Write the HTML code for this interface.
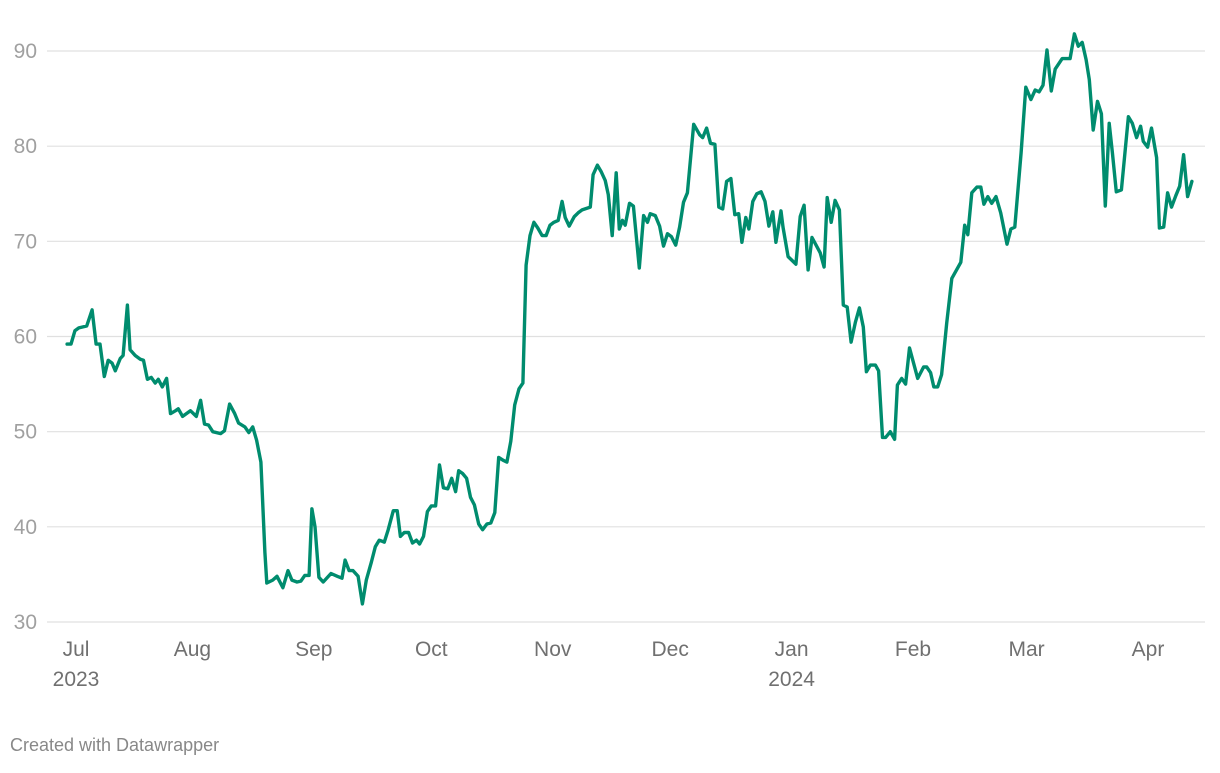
<!DOCTYPE html>
<html><head><meta charset="utf-8">
<style>
html,body{margin:0;padding:0;background:#fff;}
body{width:1220px;height:768px;overflow:hidden;font-family:"Liberation Sans",Arial,sans-serif;}
svg text{font-family:"Liberation Sans",Arial,sans-serif;}
</style></head>
<body>
<svg id="chart" width="1220" height="768" viewBox="0 0 1220 768" xmlns="http://www.w3.org/2000/svg">
<g id="grid"></g>
<g id="yaxis"></g>
<g id="xaxis"></g>
<path id="line" fill="none" stroke="#008c6e" stroke-width="3.4" stroke-linejoin="round" stroke-linecap="round"></path>
<text x="10" y="751" font-size="18" fill="#888">Created with Datawrapper</text>
</svg>
<script>
// days since 2023-07-01
const days = [-1,0,1,2,4,5.4,6.4,7.4,8.5,9.5,10.5,11.3,12.6,13.3,14.4,15.1,16.4,17.7,18.5,19.5,20.5,21.5,22.3,23.3,24.4,25.4,26.7,27.4,28.5,30.5,32,33.1,34.1,35.1,36.2,38.2,39.2,40.5,41.8,42.8,44.4,45.4,46.4,47.4,48.5,49.5,50,51.5,52.6,54.1,55.4,56.4,57.7,58.7,59.7,60.8,61.5,62.3,63.3,64.4,66.4,68,69.2,70,71,72,73.3,74.4,75.4,76.7,77.7,78.7,80,81,82.3,83.3,84.1,85.1,86.2,87.2,88.2,89,90,91,92,93.1,94.1,95.1,96.2,97.2,98.2,99,100,101,102,103,104.1,105.1,106.2,107.2,108.2,109.2,110.3,111.3,112.3,113.3,114.4,115.4,116.2,117.2,118.2,119.2,120.3,121.3,122.3,123.3,124.4,125.4,126.2,127.2,128.5,129.5,130.5,132.6,133.3,134.4,135.4,136.4,137.2,138.2,139.2,140,140.8,141.5,142.6,143.6,145.1,146.2,147.2,147.9,149.2,150.3,151.3,152.3,153.3,154.4,155.4,156.4,157.4,159,160.5,161.3,162.3,163.3,164.4,165.4,166.4,167.4,168.5,169.5,170.5,171.3,172.3,173.1,174.1,175.1,176.2,177.2,178.2,179.2,180,181.3,181.8,183.1,184.1,185.1,186.2,187.2,188.2,189.2,191.3,192.3,193.1,194.1,195.1,196.2,197.2,198.2,199.2,200.3,201.3,202.3,203.1,204.1,205.4,206.2,207.2,208,209.2,210.3,211,212.1,213.1,214.1,216.2,217.7,218.5,219.5,220.3,221.3,222.3,223.6,224.9,227.2,228.2,229,230,231.3,232.3,233.1,234.1,235.1,236.2,237.4,239,240,241,242.6,243.8,245.1,246.2,247.2,248.2,249.2,250.3,251.3,253.1,255.1,256.2,257.2,258.2,259.2,260,261,262.1,263.1,264.1,265.1,265.9,266.9,268.2,270,271,272.1,273.1,273.8,274.9,275.9,277.2,277.9,279,280,281,282.1,283.1,284.1,285.1,286.2];
const values = [59.2,59.2,60.6,60.9,61.1,62.8,59.2,59.2,55.8,57.5,57.2,56.4,57.7,58.0,63.3,58.6,58.0,57.6,57.5,55.5,55.7,55.1,55.5,54.7,55.6,51.9,52.2,52.4,51.6,52.2,51.6,53.3,50.8,50.7,50.0,49.8,50.1,52.9,51.9,50.9,50.5,49.9,50.5,49.1,46.8,37.3,34.1,34.4,34.8,33.6,35.4,34.4,34.2,34.3,34.9,34.9,41.9,40.0,34.7,34.2,35.1,34.8,34.6,36.5,35.4,35.4,34.8,31.9,34.4,36.3,37.9,38.6,38.4,39.7,41.7,41.7,39.0,39.4,39.4,38.3,38.6,38.2,39.0,41.6,42.2,42.2,46.5,44.1,44.0,45.1,43.7,45.9,45.6,45.1,43.1,42.3,40.3,39.7,40.3,40.4,41.5,47.3,47.0,46.8,49.0,52.8,54.5,55.1,67.5,70.6,72.0,71.4,70.6,70.6,71.7,72.0,72.2,74.2,72.5,71.6,72.6,73.0,73.3,73.6,77.0,78.0,77.3,76.4,74.9,70.6,77.2,71.3,72.2,71.7,74.0,73.7,67.2,72.7,72.0,72.9,72.7,71.6,69.5,70.8,70.5,69.6,71.5,74.1,75.1,82.3,81.2,80.9,81.9,80.3,80.2,73.6,73.4,76.3,76.6,72.8,72.9,69.9,72.5,71.3,74.2,75.0,75.2,74.2,71.6,73.1,69.9,73.2,71.5,68.4,68.0,67.6,72.6,73.8,67.0,70.4,68.8,67.3,74.6,72.0,74.3,73.3,63.3,63.1,59.4,61.5,63.0,61.0,56.3,57.0,57.0,56.4,49.4,49.4,50.0,49.2,54.9,55.6,55.0,58.8,55.6,56.8,56.8,56.2,54.7,54.7,56.0,61.4,66.1,67.8,71.7,70.7,75.1,75.7,75.7,73.9,74.7,74.0,74.7,73.0,69.7,71.3,71.5,79.3,86.2,84.9,85.9,85.7,86.4,90.1,85.8,88.1,89.2,89.2,91.8,90.5,90.9,89.1,87.0,81.7,84.7,83.4,73.7,82.4,79.3,75.2,75.4,83.1,82.4,80.9,82.1,80.5,79.9,81.9,78.8,71.4,71.5,75.1,73.6,74.8,75.8,79.1,74.7,76.3];
const yTicks = [30,40,50,60,70,80,90];
const monthLabels = ["Jul","Aug","Sep","Oct","Nov","Dec","Jan","Feb","Mar","Apr"];
const monthDays = [0,31,62,92,123,153,184,215,244,275];
const yearLabels = ["2023","","","","","","2024","","",""];

const NS="http://www.w3.org/2000/svg";
const x0=71, x1=1148, d1=275;
const yTop=51, yBot=622, vTop=90, vBot=30;
function xScale(d){return x0+(d/d1)*(x1-x0);}
function yScale(v){return yBot-(v-vBot)/(vTop-vBot)*(yBot-yTop);}

const grid=document.getElementById('grid');
const yax=document.getElementById('yaxis');
yTicks.forEach(t=>{
  const l=document.createElementNS(NS,'line');
  l.setAttribute('x1',47);l.setAttribute('x2',1205);
  l.setAttribute('y1',yScale(t));l.setAttribute('y2',yScale(t));
  l.setAttribute('stroke','#e0e0e0');l.setAttribute('stroke-width',1.2);
  
  
  grid.appendChild(l);
  const tx=document.createElementNS(NS,'text');
  tx.setAttribute('x',37);tx.setAttribute('y',yScale(t)+7);
  tx.setAttribute('text-anchor','end');tx.setAttribute('font-size','21');tx.setAttribute('fill','#a0a0a0');
  tx.textContent=t;
  
  
  yax.appendChild(tx);
});
const xax=document.getElementById('xaxis');
monthLabels.forEach((m,i)=>{
  const x=xScale(monthDays[i]) + (i===0?5:0);
  const tx=document.createElementNS(NS,'text');
  tx.setAttribute('x',x);tx.setAttribute('y',656);
  tx.setAttribute('text-anchor','middle');tx.setAttribute('font-size','21');tx.setAttribute('fill','#707070');
  tx.textContent=m;
  
  
  xax.appendChild(tx);
  if(yearLabels[i]){
    const ty=document.createElementNS(NS,'text');
    ty.setAttribute('x',x);ty.setAttribute('y',686);
    ty.setAttribute('text-anchor','middle');ty.setAttribute('font-size','21');ty.setAttribute('fill','#707070');
    ty.textContent=yearLabels[i];
    
    
    xax.appendChild(ty);
  }
});
let d='';
days.forEach((dy,i)=>{d+=(i?'L':'M')+xScale(dy).toFixed(1)+','+yScale(values[i]).toFixed(1);});
document.getElementById('line').setAttribute('d',d);
</script>
</body></html>
